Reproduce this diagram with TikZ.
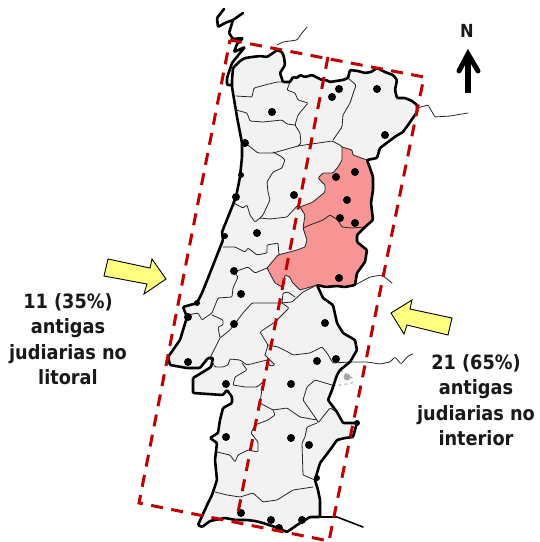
\documentclass[tikz,border=0pt]{standalone}
\usepackage{fontspec}
\newfontfamily\labfont{DejaVu Sans Condensed}[BoldFont={DejaVu Sans Condensed Bold}]
\definecolor{landgray}{HTML}{F2F2F2}
\definecolor{redfill}{HTML}{F79494}
\definecolor{framered}{HTML}{C00000}
\definecolor{arrowyellow}{HTML}{FFFF80}
\tikzset{
  thinline/.style={draw=black!85,line width=0.8pt,line join=round,line cap=round,rounded corners=1pt},
  thickline/.style={draw=black,line width=2.6pt,line join=round,line cap=round,rounded corners=1pt},
  medline/.style={draw=black,line width=1.6pt,line join=round,line cap=round},
  frameline/.style={draw=framered,line width=3pt,dash pattern=on 12pt off 8.5pt},
  fatdot/.style={circle,fill=black,inner sep=0pt,minimum size=8pt},
  smalldot/.style={circle,fill=black,inner sep=0pt,minimum size=6pt},
  greydot/.style={circle,fill=black!35,inner sep=0pt,minimum size=7pt},
  bigarrow/.style={draw=black,line width=0.9pt,fill=arrowyellow,line join=miter},
  label/.style={font=\labfont\bfseries\fontsize{19.7}{25.5}\selectfont,align=center,text=black!90}
}
\def\landpath{(232,80) -- (233,68) -- (240,61) -- (245,58) -- (252,57) -- (260,56) -- (267,57) -- (273,53) -- (277,50) -- (282,52) -- (284,57) -- (285,65) -- (280,73) -- (283,82) -- (290,82) -- (293,77) -- (297,78) -- (300,75) -- (305,77) -- (312,75) -- (318,78) -- (322,80) -- (326,80) -- (330,82) -- (336,81) -- (343,80) -- (348,78) -- (350,70) -- (358,71) -- (365,73) -- (371,72) -- (377,68) -- (385,72) -- (393,75) -- (397,80) -- (395,90) -- (397,98) -- (405,98) -- (412,101) -- (417,105) -- (417,112) -- (408,125) -- (403,132) -- (396,136) -- (388,142) -- (380,148) -- (377,158) -- (367,160) -- (370,168) -- (373,177) -- (373,190) -- (371,203) -- (373,220) -- (365,227) -- (357,235) -- (357,242) -- (367,250) -- (365,262) -- (357,273) -- (355,285) -- (345,287) -- (337,286) -- (326,287) -- (317,285) -- (323,298) -- (333,305) -- (337,323) -- (343,333) -- (355,340) -- (357,350) -- (350,362) -- (340,370) -- (337,375) -- (332,390) -- (328,400) -- (337,412) -- (343,423) -- (357,423) -- (353,437) -- (345,438) -- (337,440) -- (330,450) -- (320,463) -- (315,480) -- (318,490) -- (320,500) -- (320,517) -- (310,517) -- (300,523) -- (287,532) -- (278,528) -- (263,523) -- (255,521) -- (247,520) -- (236,520) -- (225,518) -- (210,521) -- (202,527) -- (198,525) -- (208,503) -- (212,495) -- (217,480) -- (215,460) -- (217,443) -- (210,438) -- (218,433) -- (220,420) -- (223,408) -- (232,403) -- (232,397) -- (227,390) -- (223,395) -- (208,394) -- (193,393) -- (193,378) -- (203,372) -- (211,367) -- (213,358) -- (208,358) -- (200,368) -- (187,368) -- (170,365) -- (168,357) -- (180,340) -- (187,317) -- (183,307) -- (197,303) -- (202,293) -- (210,273) -- (223,240) -- (222,232) -- (236,197) -- (240,177) -- (242,157) -- (242,143) -- (237,117) -- (232,87) -- cycle}
\begin{document}
\begin{tikzpicture}[x=1pt,y=-1pt]
\useasboundingbox (0,0) rectangle (540,542);
% land and highlighted districts
\path[fill=landgray] \landpath;
\path[fill=redfill] (342,147) -- (352,150) -- (353,155) -- (367,160) -- (370,168) -- (373,177) -- (373,190) -- (371,203) -- (373,220) -- (365,227) -- (357,235) -- (357,242) -- (367,250) -- (365,262) -- (357,273) -- (355,285) -- (345,287) -- (337,286) -- (326,287) -- (317,285) -- (308,288) -- (300,290) -- (292,282) -- (290,277) -- (285,275) -- (282,287) -- (275,283) -- (267,268) -- (278,255) -- (297,250) -- (305,247) -- (307,240) -- (303,228) -- (305,215) -- (300,207) -- (313,202) -- (325,192) -- (325,185) -- (318,178) -- (323,173) -- (333,173) -- (338,167) -- (342,160) -- cycle;
% district borders
\draw[thinline] (342,147) -- (352,150) -- (353,155) -- (367,160);
\draw[thinline] (342,147) -- (342,160) -- (338,167) -- (333,173) -- (323,173) -- (318,178) -- (325,185) -- (325,192) -- (313,202) -- (300,207) -- (305,215) -- (303,228) -- (307,240) -- (305,247) -- (297,250) -- (278,255) -- (267,268) -- (275,283) -- (282,287) -- (285,275) -- (290,277) -- (292,282) -- (300,290) -- (317,285);
\draw[thinline] (365,227) -- (352,228) -- (342,227) -- (338,220) -- (330,215) -- (323,220) -- (310,225) -- (303,228);
\draw[thinline] (236,96) -- (252,97) -- (254,88) -- (265,85) -- (277,82) -- (283,82);
\draw[thinline] (290,82) -- (287,90) -- (295,93) -- (298,100) -- (308,103) -- (298,115) -- (295,125) -- (300,133) -- (301,143) -- (298,146);
\draw[thinline] (236,110) -- (247,113) -- (250,121) -- (263,122) -- (282,120) -- (287,124) -- (295,125);
\draw[thinline] (348,78) -- (356,85) -- (350,103) -- (343,115) -- (342,127) -- (333,140);
\draw[thinline] (245,143) -- (258,153) -- (273,153) -- (298,146) -- (332,141) -- (340,145) -- (342,147);
\draw[thinline] (273,152) -- (282,157) -- (285,160) -- (282,168) -- (273,172) -- (267,182) -- (268,192) -- (270,200) -- (263,215) -- (260,218);
\draw[thinline] (232,202) -- (243,208) -- (247,205) -- (250,215) -- (255,222) -- (260,218) -- (270,219) -- (287,217) -- (298,205) -- (300,207);
\draw[thinline] (223,247) -- (235,247) -- (245,252) -- (248,248) -- (257,255) -- (267,253) -- (267,245) -- (278,243) -- (279,255);
\draw[thinline] (234,272) -- (248,267) -- (255,273) -- (267,268);
\draw[thinline] (234,272) -- (238,277) -- (233,288) -- (232,297) -- (218,298) -- (212,313) -- (202,320) -- (198,313) -- (188,315);
\draw[thinline] (212,315) -- (223,320) -- (223,325) -- (218,327) -- (220,338) -- (230,330) -- (243,313) -- (252,303) -- (280,303) -- (292,302) -- (303,292) -- (317,285);
\draw[thinline] (220,338) -- (210,358);
\draw[thinline] (282,303) -- (283,293) -- (288,292) -- (295,297);
\draw[thinline] (282,303) -- (289,308) -- (275,322) -- (260,332) -- (268,345) -- (265,355);
\draw[thinline] (268,345) -- (278,347) -- (288,352) -- (293,355) -- (310,353) -- (322,347) -- (327,353) -- (333,363) -- (350,362);
\draw[thinline] (265,355) -- (275,365) -- (270,366) -- (267,360) -- (247,365) -- (240,360) -- (230,359) -- (228,365) -- (223,367) -- (215,367) -- (210,358);
\draw[thinline] (242,363) -- (247,370) -- (235,377) -- (233,385) -- (245,387) -- (257,387) -- (263,382) -- (260,403);
\draw[thinline] (260,403) -- (273,410) -- (287,408) -- (300,417) -- (317,420);
\draw[thinline] (273,410) -- (275,415) -- (268,420) -- (255,425) -- (251,433) -- (258,442) -- (258,452) -- (248,450) -- (238,455) -- (235,462) -- (230,455) -- (217,452);
\draw[thinline] (332,385) -- (315,380) -- (307,387) -- (303,400) -- (317,420) -- (318,423) -- (330,408) -- (337,412);
\draw[thinline] (317,423) -- (307,427) -- (305,437) -- (302,443) -- (303,475) -- (315,480);
\draw[thinline] (215,492) -- (227,495) -- (240,497) -- (253,493) -- (263,502) -- (277,500) -- (293,490) -- (313,487);
% rivers and borders outside the country
\draw[thinline] (277,45) -- (283,42) -- (297,40) -- (302,33) -- (307,27);
\draw[thinline] (417,108) -- (428,105) -- (435,117) -- (450,116) -- (468,113);
\draw[thinline] (355,285) -- (370,277) -- (382,275) -- (392,283);
\draw[thinline] (350,362) -- (367,362) -- (380,364) -- (390,362) -- (395,357) -- (401,364) -- (408,356) -- (413,354);
\draw[draw=black!35,line width=1pt,dashed] (340,370) -- (352,378) -- (352,383) -- (335,386);
\draw[medline] (320,517) -- (337,517) -- (350,522) -- (363,527);
% country outline
\draw[thickline] \landpath;
\draw[thickline] (224,9) -- (217,18) -- (218,27) -- (225,23) -- (233,20) -- (243,13);
\draw[thickline] (233,20) -- (229,33) -- (233,39) -- (243,38) -- (237,44) -- (234,52) -- (245,47) -- (240,53) -- (232,63) -- (227,78) -- (227,85) -- (232,85);
% dots
\foreach \n/\p in {a/{272,112},b/{332,97},c/{339,89},d/{377,89},e/{385,135},f/{245,143},g/{336,177},h/{355,172},i/{347,200},j/{294,195},k/{340,218},l/{355,223},m/{257,233},n/{236,197},o/{234,271},q/{241,294},r/{339,278},s/{188,317},t/{234,324},u/{188,362},v/{325,323},w/{317,361},x/{336,359},y/{226,384},z/{291,384},aa/{226,437},ab/{291,438},ac/{309,445},ad/{241,513},ae/{271,520},af/{302,520},ag/{279,528}}
  \node[fatdot] (dot\n) at (\p) {};
\node[smalldot] (dotsa) at (225,236) {};
\node[smalldot] (dotsb) at (197,303) {};
\node[smalldot] (dotsc) at (317,478) {};
\node[smalldot] (dotsd) at (357,423) {};
\node[smalldot] (dotse) at (241,175) {};
\node[greydot] (dotgrey) at (347,377) {};
% dashed frames
\coordinate (tl) at (230,40);
\coordinate (tr) at (424,77);
\coordinate (br) at (329,541);
\coordinate (bl) at (139,503);
\coordinate (mt) at (328,57);
\coordinate (mb) at (236,523);
\draw[frameline] (tl) -- (tr) -- (br) -- (bl) -- cycle;
\draw[frameline] (mt) -- (mb);
% yellow arrows
\draw[bigarrow] (108,259) -- (150,268) -- (152,259) -- (166,279) -- (144,294) -- (147,284) -- (104,276) -- cycle;
\draw[bigarrow] (391,313) -- (412,300) -- (410,309) -- (452,318) -- (448,335) -- (407,325) -- (404,334) -- cycle;
% north arrow
\node[font=\labfont\bfseries\fontsize{18}{18}\selectfont,text=black!90] (north) at (467,31) {N};
\coordinate (ntip) at (468,54);
\coordinate (ntail) at (468,93);
\draw[line width=6pt,draw=black] (ntip) ++(0,2) -- (ntail);
\draw[line width=5pt,line cap=round,line join=miter,draw=black] (459,71) -- (468,54) -- (478,71);
% labels
\node[label] (leftlabel) at (68,339) {11 (35\%)\\antigas\\judiarias no\\litoral};
\node[label] (rightlabel) at (476,400) {21 (65\%)\\antigas\\judiarias no\\interior};
\end{tikzpicture}
\end{document}
